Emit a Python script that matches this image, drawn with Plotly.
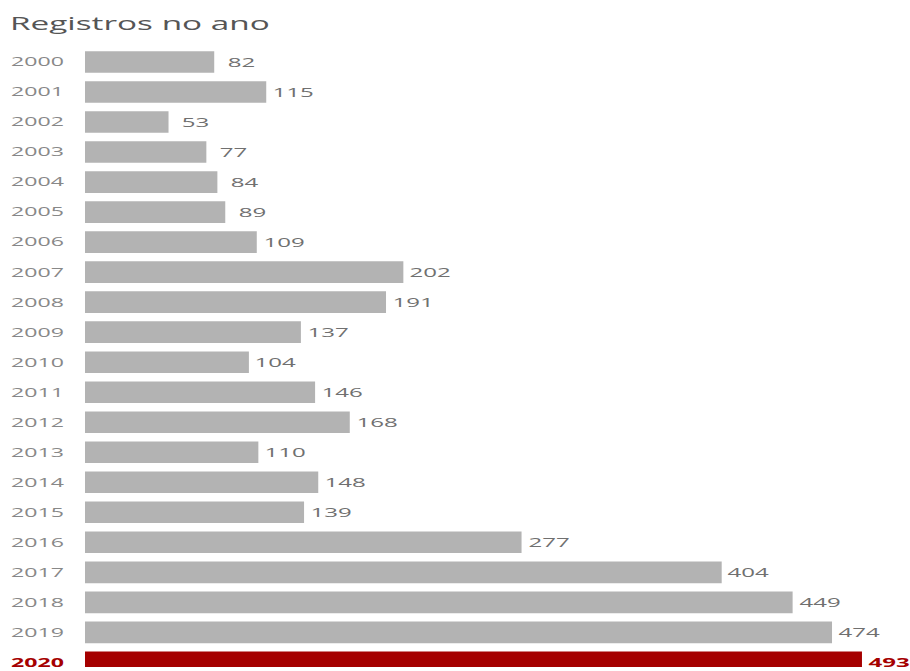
import plotly.graph_objects as go

years = [str(y) for y in range(2000, 2021)]
values = [82, 115, 53, 77, 84, 89, 109, 202, 191, 137, 104, 146, 168, 110, 148, 139, 277, 404, 449, 474, 493]
highlight_year = "2020"
title_text = "Registros no ano"

GRAY = "#b3b3b3"
RED = "#a50000"
FONT = "Open Sans"

bar_colors = [RED if y == highlight_year else GRAY for y in years]
tick_text = [f"<b><span style='color:{RED}'>{y}</span></b>" if y == highlight_year else y for y in years]

fig = go.Figure(go.Bar(
    x=values, y=years, orientation="h",
    marker=dict(color=bar_colors, line=dict(width=0)),
    hoverinfo="skip",
))

for i, (y, v) in enumerate(zip(years, values)):
    hl = y == highlight_year
    fig.add_annotation(
        x=v, y=i, xref="x", yref="y", showarrow=False,
        text=f"<b>{v}</b>" if hl else str(v),
        xshift=27, xanchor="center", yanchor="middle",
        font=dict(family=FONT, size=13, color=RED if hl else "#707070"),
    )

fig.update_layout(
    width=910, height=671,
    margin=dict(l=85, r=37, t=47, b=0),
    paper_bgcolor="white", plot_bgcolor="white",
    bargap=0.28,
    showlegend=False,
    title=dict(text=title_text, x=10/910, xanchor="left", xref="container",
               y=1 - 24/671, yanchor="middle", yref="container",
               font=dict(family=FONT, size=18, color="#555555")),
    xaxis=dict(visible=False, range=[0, 500]),
    yaxis=dict(
        type="category", range=[20.154, -0.5],
        tickmode="array", tickvals=years, ticktext=tick_text,
        showgrid=False, zeroline=False, showline=False, ticks="",
        ticklabelstandoff=20,
        tickfont=dict(family=FONT, size=12.5, color="#888888"),
    ),
)

post = """
document.body.style.margin = '0';
document.body.style.overflow = 'hidden';
var gd = document.getElementById('{plot_id}');
var S = 1.85;
gd.querySelectorAll('svg text').forEach(function(t){
  try {
    var L = t.getComputedTextLength();
    if (L > 0) {
      t.setAttribute('textLength', (L * S).toFixed(2));
      t.setAttribute('lengthAdjust', 'spacingAndGlyphs');
    }
  } catch(e) {}
});
"""

fig.write_html("out.html", post_script=post, config={"displayModeBar": False})
